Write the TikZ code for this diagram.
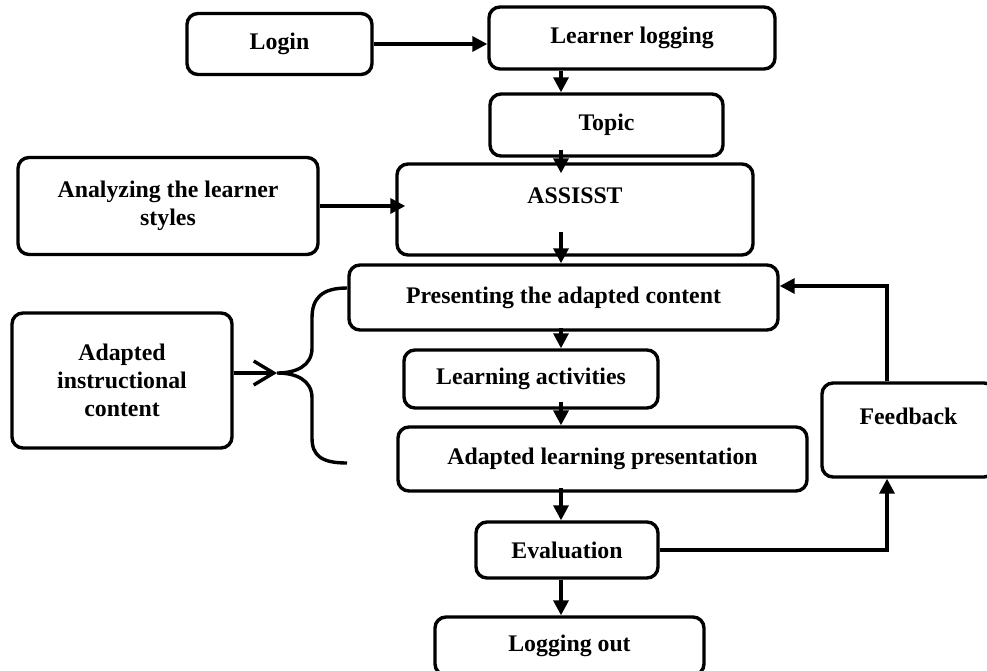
\documentclass[tikz,border=0pt]{standalone}
\usepackage{fontspec}
\setmainfont{Liberation Serif}
\usetikzlibrary{arrows.meta}

\begin{document}
\begin{tikzpicture}[x=1pt,y=-1pt]%
  \tikzstyle{boxn}=[rectangle,draw,line width=3.4pt,rounded corners=11pt,align=center,inner sep=2pt,font=\fontsize{23.8}{28}\selectfont\bfseries]
  \tikzstyle{arr}=[line width=3.4pt,-{Triangle[length=15pt,width=15pt]}]
  \tikzstyle{barb}=[line width=3.4pt,-{Straight Barb[length=20pt,width=24pt]}]
  \useasboundingbox (0,0) rectangle (987,670);
  \clip (0,0) rectangle (987,670);
  \coordinate (spine) at (561,0);
  \coordinate (fb) at (887,0);
  \coordinate (tip) at (277,373);
  \node(login)[boxn,minimum width=185pt,minimum height=61pt] at (279.5,44) {Login};
  \node(learner)[boxn,minimum width=286pt,minimum height=62pt] at (632,38) {Learner logging};
  \node(topic)[boxn,minimum width=233pt,minimum height=62pt] at (606.5,125) {Topic};
  \node(assisst)[boxn,minimum width=356pt,minimum height=91pt] at (575,209.5) {ASSISST\\~};
  \node(analyzing)[boxn,minimum width=300pt,minimum height=97pt] at (168,206) {Analyzing the learner\\styles};
  \node(presenting)[boxn,minimum width=429pt,minimum height=65pt] at (563.5,297.5) {Presenting the adapted content};
  \node(learning)[boxn,minimum width=254pt,minimum height=58pt] at (531,379) {Learning activities};
  \node(alp)[boxn,minimum width=409pt,minimum height=64pt] at (602.5,459) {Adapted learning presentation};
  \node(eval)[boxn,minimum width=182pt,minimum height=56pt] at (567,550) {Evaluation};
  \node(logout)[boxn,minimum width=269pt,minimum height=58pt] at (569.5,646) {Logging out};
  \node(feedback)[boxn,minimum width=173pt,minimum height=94pt] at (908.5,430) {Feedback\\~};
  \node(adapted)[boxn,minimum width=220pt,minimum height=135pt] at (122,380.5) {Adapted\\instructional\\content};
  % main line
  \draw[arr] (login.east) -- (login.east -| learner.west);
  \draw[arr] (spine |- learner.south) -- (spine |- topic.north);
  \draw[arr] ([yshift=8pt]spine |- topic.south) -- ([yshift=-11pt]spine |- assisst.north);
  \draw[arr] (analyzing.east) -- ([xshift=10pt]analyzing.east -| assisst.west);
  \draw[arr] ([yshift=25pt]spine |- assisst.south) -- (spine |- presenting.north);
  \draw[arr] ([yshift=4pt]spine |- presenting.south) -- (spine |- learning.north);
  \draw[arr] ([yshift=8pt]spine |- learning.south) -- (spine |- alp.north);
  \draw[arr] ([yshift=5pt]spine |- alp.south) -- (spine |- eval.north);
  \draw[arr] (spine |- eval.south) -- (spine |- logout.north);
  % feedback loop
  \draw[arr] (eval.east) -| (fb |- feedback.south);
  \draw[arr] (fb |- feedback.north) |- ([yshift=11.5pt]presenting.east);
  % brace
  \draw[barb] (adapted.east |- tip) -- (tip);
  \draw[line width=3.4pt] (347,288) .. controls (322,288) and (312,298) .. (312,318) -- (312,348)
    .. controls (312,366) and (296,373) .. (tip) .. controls (296,373) and (312,380) .. (312,398)
    -- (312,438) .. controls (312,456) and (322,463) .. (347,463);
\end{tikzpicture}
\end{document}
